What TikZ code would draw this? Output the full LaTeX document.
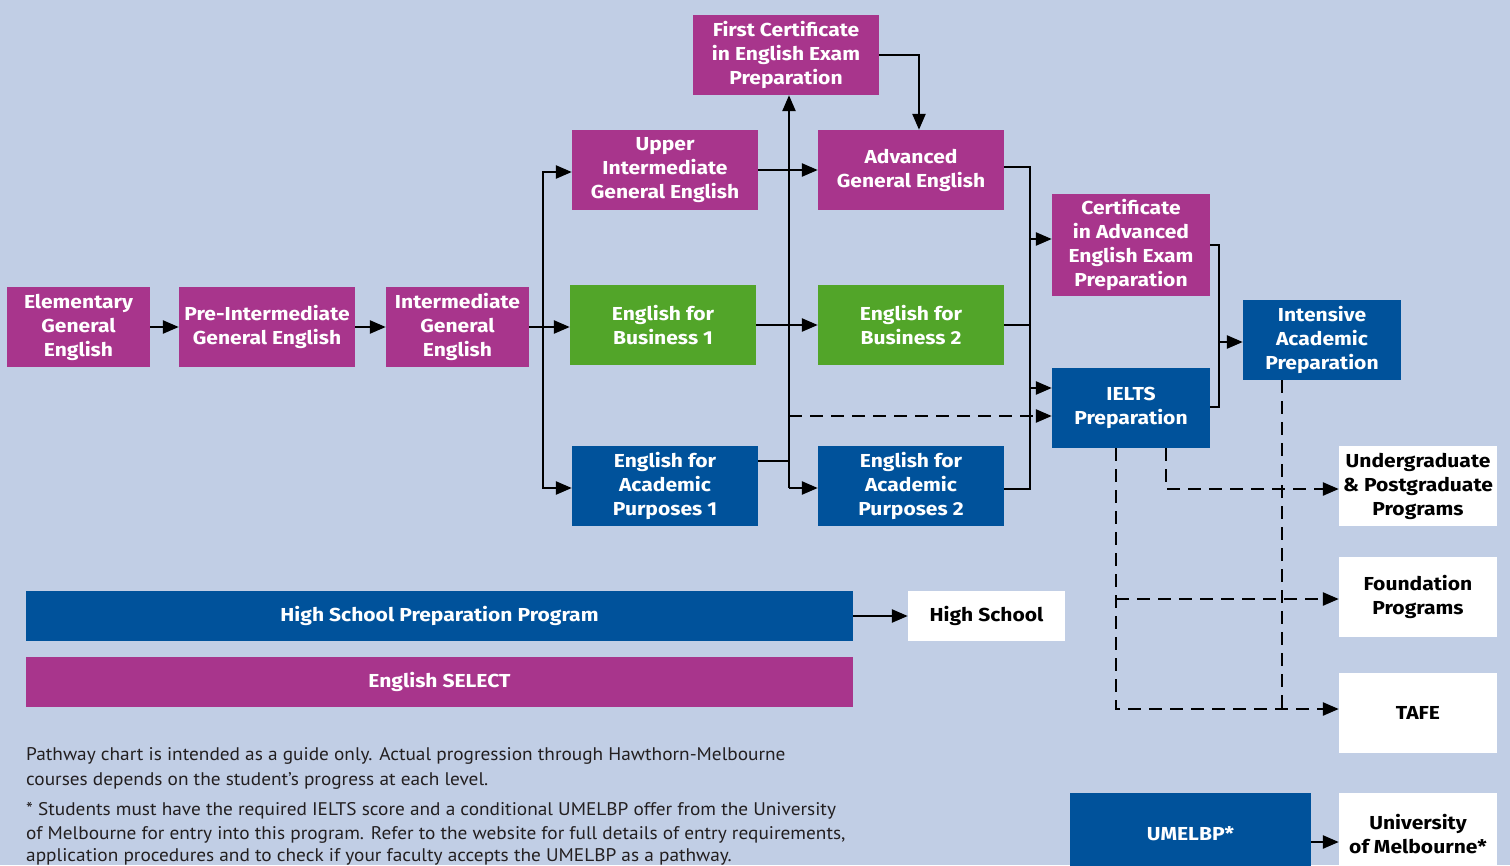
\documentclass[tikz,border=0pt]{standalone}
\usepackage{fontspec}
\setmainfont{PT Sans}[FakeStretch=1.055]
\newfontfamily\boxfont{Fira Sans}[FakeStretch=1.12]
\usetikzlibrary{arrows.meta,calc}
\definecolor{bg}{HTML}{C1CEE5}
\definecolor{mag}{HTML}{A8358C}
\definecolor{grn}{HTML}{52A529}
\definecolor{blu}{HTML}{00529B}
\definecolor{txt}{HTML}{231F20}
\begin{document}
\begin{tikzpicture}[x=1pt,y=-1pt,
  bx/.style={minimum width=186pt,minimum height=80pt,inner sep=0pt,align=center,
    font=\boxfont\fontsize{18.8}{24}\selectfont\bfseries,text=white},
  magbox/.style={bx,fill=mag},
  grnbox/.style={bx,fill=grn},
  blubox/.style={bx,fill=blu},
  whtbox/.style={bx,fill=white,text=black,minimum width=158pt},
  con/.style={line width=2.5pt,draw=black},
  arr/.style={con,-{Triangle[length=16pt,width=13pt]}},
  dsh/.style={dash pattern=on 13pt off 8pt},
  note/.style={anchor=base west,inner sep=0pt,text=txt,font=\fontsize{18.3}{22}\selectfont}
]
\fill[bg] (0,0) rectangle (1510,865);
\useasboundingbox (0,0) rectangle (1510,865);

% boxes
\node[magbox,minimum width=143pt] (elem) at (78.5,327) {Elementary\\General\\English};
\node[magbox,minimum width=176pt] (preint) at (267,327) {Pre-Intermediate\\General English};
\node[magbox,minimum width=143pt] (inter) at (457.5,327) {Intermediate\\General\\English};
\node[magbox] (upper) at (665,170) {Upper\\Intermediate\\General English};
\node[grnbox] (bus1) at (663,325) {English for\\Business 1};
\node[blubox] (eap1) at (665,486) {English for\\Academic\\Purposes 1};
\node[magbox] (fce) at (786,55) {First Certificate\\in English Exam\\Preparation};
\node[magbox] (adv) at (911,170) {Advanced\\General English};
\node[grnbox] (bus2) at (911,325) {English for\\Business 2};
\node[blubox] (eap2) at (911,486) {English for\\Academic\\Purposes 2};
\node[magbox,minimum width=158pt,minimum height=102pt] (cae) at (1131,244.5) {Certificate\\in Advanced\\English Exam\\Preparation};
\node[blubox,minimum width=158pt] (ielts) at (1131,408) {IELTS\\Preparation};
\node[blubox,minimum width=158pt] (iap) at (1322,340) {Intensive\\Academic\\Preparation};
\node[whtbox] (ug) at (1418,486) {Undergraduate\\\& Postgraduate\\Programs};
\node[whtbox] (found) at (1418,597) {Foundation\\Programs};
\node[whtbox] (tafe) at (1418,713) {TAFE};
\node[blubox,minimum width=241pt,minimum height=82pt] (umelbp) at (1190.5,834) {UMELBP*};
\node[whtbox,minimum height=82pt] (uom) at (1418,834) {University\\of Melbourne*};
\node[blubox,minimum width=827pt,minimum height=50pt] (hsp) at (439.5,616) {High School Preparation Program};
\node[whtbox,minimum width=157pt,minimum height=50pt] (hs) at (986.5,616) {High School};
\node[magbox,minimum width=827pt,minimum height=50pt] (sel) at (439.5,682) {English SELECT};

% connectors
\draw[arr] (elem.east) -- (preint.west);
\draw[arr] (preint.east) -- (inter.west);
\coordinate (j1) at (543,328);
\draw[arr] (inter.east) -- (inter.east -| bus1.west);
\draw[arr] (j1) |- ([yshift=-2]upper.west);
\draw[arr] (j1) |- ([yshift=-2]eap1.west);
\draw[arr] (upper.east) -- (adv.west);
\draw[arr] (bus1.east) -- (bus2.west);
\coordinate (j2) at (789,488);
\draw[con] ([yshift=25]eap1.east) -| (j2);
\draw[arr] (j2) -- (j2 |- fce.south);
\draw[arr] (j2) -- (j2 -| eap2.west);
\coordinate (j4) at (789,416);
\draw[arr,dsh] (j4) -- (j4 -| ielts.west);
\draw[arr] (fce.east) -| ([xshift=8]adv.north);

\coordinate (k1) at (1030,167);
\coordinate (k2) at (1030,489);
\draw[con] (k1 -| adv.east) -- (k1) -- (k2) -- (k2 -| eap2.east);
\draw[con] (bus2.east) -- (bus2.east -| k1);
\coordinate (k3) at (1030,239);
\coordinate (k4) at (1030,388);
\draw[arr] (k3) -- (k3 -| cae.west);
\draw[arr] (k4) -- (k4 -| ielts.west);

\coordinate (m1) at (1219,245);
\coordinate (m2) at (1219,407);
\draw[con] (m1 -| cae.east) -- (m1) -- (m2) -- (m2 -| ielts.east);
\coordinate (m3) at (1219,342);
\draw[arr] (m3) -- (m3 -| iap.west);

\coordinate (d1) at (1116,709);
\coordinate (d2) at (1116,599);
\coordinate (d3) at (1166,489);
\coordinate (d4) at (1282,709);
\draw[arr,dsh] (d1 |- ielts.south) -- (d1) -- (d1 -| tafe.west);
\draw[arr,dsh] (d2) -- (d2 -| found.west);
\draw[arr,dsh] (d3 |- ielts.south) -- (d3) -- (d3 -| ug.west);
\draw[con,dsh] (d4 |- iap.south) -- (d4);

\draw[arr] (hsp.east) -- (hs.west);
\draw[arr] ([yshift=-8]umelbp.east) -- ([yshift=-8]uom.west);

% notes
\node[note] (n1) at (26,760) {Pathway chart is intended as a guide only. Actual progression through Hawthorn-Melbourne};
\node[note] (n2) at (26,785) {courses depends on the student’s progress at each level.};
\node[note] (n3) at (26,815) {* Students must have the required IELTS score and a conditional UMELBP offer from the University};
\node[note] (n4) at (26,839) {of Melbourne for entry into this program. Refer to the website for full details of entry requirements,};
\node[note] (n5) at (26,861) {application procedures and to check if your faculty accepts the UMELBP as a pathway.};
\end{tikzpicture}
\end{document}
